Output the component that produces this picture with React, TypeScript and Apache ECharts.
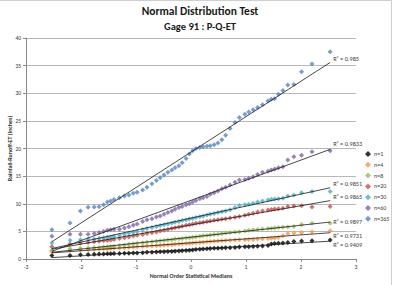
import React, { useEffect, useRef } from "react";
import * as echarts from "echarts";

// Normal order statistic medians (x) shared by all series
const xs = [-2.53, -2.2, -2.01, -1.87, -1.76, -1.67, -1.59, -1.52, -1.46, -1.4, -1.3, -1.21, -1.13, -1.05, -0.98, -0.88, -0.8, -0.71, -0.63, -0.56, -0.49, -0.42, -0.35, -0.29, -0.22, -0.16, -0.09, -0.03, 0.03, 0.09, 0.16, 0.22, 0.29, 0.35, 0.42, 0.49, 0.56, 0.63, 0.71, 0.8, 0.88, 0.98, 1.05, 1.13, 1.21, 1.3, 1.4, 1.46, 1.52, 1.59, 1.67, 1.76, 1.87, 2.01, 2.2, 2.53];

const seriesNames = ["n=1", "n=4", "n=8", "n=20", "n=30", "n=60", "n=365"];

const n1 = [0.65, 0.65, 0.75, 0.8, 0.85, 0.9, 0.9, 0.95, 0.95, 1.0, 1.0, 1.05, 1.05, 1.1, 1.1, 1.15, 1.2, 1.2, 1.25, 1.3, 1.3, 1.35, 1.35, 1.4, 1.45, 1.5, 1.55, 1.6, 1.65, 1.7, 1.75, 1.8, 1.85, 1.9, 1.95, 1.95, 2.0, 2.05, 2.05, 2.1, 2.15, 2.2, 2.2, 2.25, 2.3, 2.35, 2.45, 2.7, 2.8, 2.85, 2.9, 3.0, 3.15, 3.25, 3.3, 3.45];
const n4 = [1.35, 1.6, 1.65, 1.7, 1.75, 1.8, 1.85, 1.85, 1.9, 1.95, 2.0, 2.05, 2.1, 2.15, 2.2, 2.25, 2.3, 2.35, 2.4, 2.45, 2.5, 2.55, 2.6, 2.65, 2.7, 2.75, 2.8, 2.85, 2.9, 2.95, 3.0, 3.05, 3.1, 3.15, 3.2, 3.25, 3.3, 3.35, 3.4, 3.45, 3.5, 3.5, 3.55, 3.55, 3.6, 3.65, 3.7, 3.75, 3.8, 3.9, 4.2, 4.6, 4.7, 4.8, 4.95, 5.1];
const n8 = [1.55, 1.85, 1.95, 2.0, 2.05, 2.1, 2.15, 2.2, 2.25, 2.3, 2.45, 2.55, 2.65, 2.75, 2.85, 2.95, 3.05, 3.1, 3.2, 3.3, 3.35, 3.45, 3.5, 3.6, 3.65, 3.7, 3.8, 3.85, 3.95, 4.0, 4.1, 4.2, 4.25, 4.35, 4.45, 4.5, 4.6, 4.7, 4.78, 4.87, 4.95, 5.05, 5.2, 5.3, 5.35, 5.45, 5.5, 5.55, 5.6, 5.7, 5.75, 5.8, 5.9, 6.25, 6.45, 6.45];
const n20 = [2.2, 2.7, 2.9, 3.0, 3.1, 3.2, 3.3, 3.35, 3.45, 3.55, 3.7, 3.85, 4.0, 4.15, 4.3, 4.45, 4.6, 4.75, 4.9, 5.05, 5.2, 5.35, 5.5, 5.65, 5.8, 5.95, 6.1, 6.2, 6.35, 6.45, 6.55, 6.65, 6.8, 6.9, 7.0, 7.1, 7.2, 7.3, 7.4, 7.55, 7.7, 7.9, 8.1, 8.3, 8.5, 8.7, 8.85, 8.95, 9.05, 9.1, 9.2, 9.5, 9.6, 9.65, 9.4, 9.5];
const n30 = [2.9, 3.4, 3.5, 3.6, 3.6, 3.7, 3.8, 3.9, 4.0, 4.1, 4.3, 4.5, 4.65, 4.8, 5.0, 5.3, 5.5, 5.7, 5.9, 6.05, 6.2, 6.35, 6.5, 6.65, 6.8, 6.95, 7.1, 7.25, 7.35, 7.5, 7.65, 7.8, 7.95, 8.1, 8.25, 8.4, 8.55, 8.7, 8.9, 9.3, 9.7, 9.8, 9.9, 10.1, 10.3, 10.5, 10.7, 10.8, 10.85, 10.9, 11.0, 11.4, 11.6, 12.0, 12.2, 12.2];
const n60 = [4.1, 4.5, 4.5, 4.5, 4.6, 4.8, 5.0, 5.2, 5.3, 5.4, 5.4, 5.6, 5.85, 6.1, 6.35, 6.8, 7.1, 7.3, 7.6, 7.8, 8.1, 8.4, 8.7, 9.0, 9.3, 9.5, 9.8, 10.0, 10.3, 10.6, 10.9, 11.1, 11.3, 11.7, 12.0, 12.3, 12.7, 13.0, 13.4, 13.9, 14.3, 14.4, 14.6, 14.9, 15.3, 15.7, 15.9, 16.1, 16.3, 16.5, 16.7, 17.9, 18.5, 18.8, 19.4, 19.6];
const n365 = [5.3, 6.5, 8.7, 9.35, 9.4, 9.45, 9.8, 10.3, 10.5, 10.75, 11.1, 11.4, 11.6, 11.9, 12.1, 12.5, 13.0, 13.6, 14.2, 14.7, 15.2, 15.7, 16.1, 16.5, 16.9, 17.4, 18.2, 19.0, 19.6, 20.0, 20.2, 20.3, 20.4, 20.5, 20.7, 21.0, 21.6, 22.4, 23.6, 24.7, 25.6, 26.2, 26.6, 27.0, 27.4, 27.9, 28.6, 28.9, 29.0, 29.8, 30.5, 31.5, 31.6, 33.9, 35.3, 37.5];

const seriesValues = [n1, n4, n8, n20, n30, n60, n365];
const rSquared = ["0.9409", "0.9731", "0.9897", "0.9865", "0.9851", "0.9833", "0.985"];

const titleText = "Normal Distribution Test";
const subtitleText = "Gage 91 : P-Q-ET";

// styles
const colors = ["#000000", "#F79646", "#9BBB59", "#C0504D", "#4BACC6", "#8064A2", "#5585C2"];
const labelOffsets = [[1, 4], [1, 3], [1, 0], [1, -4], [1, -4], [1, -5], [1, -3]];
const FONT = "Carlito, Lato, 'Open Sans', sans-serif";

function linearFit(x: number[], y: number[]) {
  const n = x.length;
  let sx = 0, sy = 0, sxx = 0, sxy = 0;
  for (let i = 0; i < n; i++) {
    sx += x[i]; sy += y[i]; sxx += x[i] * x[i]; sxy += x[i] * y[i];
  }
  const b = (n * sxy - sx * sy) / (n * sxx - sx * sx);
  const a = (sy - b * sx) / n;
  return { a, b };
}

export default function App() {
  const ref = useRef<HTMLDivElement>(null);
  useEffect(() => {
    document.body.style.margin = "0";
    const chart = echarts.init(ref.current!, null, { renderer: "svg" });
    const scatter = seriesNames.map((name, i) => ({
      name,
      type: "scatter",
      symbol: "diamond",
      symbolSize: 5,
      itemStyle: { color: colors[i] },
      data: xs.map((x, j) => [x, seriesValues[i][j]]),
      z: 2,
    }));
    const trends = seriesNames.map((name, i) => {
      const { a, b } = linearFit(xs, seriesValues[i]);
      const x0 = xs[0];
      const x1 = xs[xs.length - 1];
      return {
        name: "trend " + name,
        type: "line",
        symbol: "none",
        silent: true,
        lineStyle: { color: "#1a1a1a", width: 0.8 },
        z: 3,
        endLabel: {
          show: true,
          offset: labelOffsets[i],
          formatter: "R² = " + rSquared[i],
          fontSize: 6.3,
          color: "#404040",
          fontFamily: FONT,
          distance: 2,
        },
        data: [
          [x0, a + b * x0],
          [x1, a + b * x1],
        ],
      };
    });
    chart.setOption({
      animation: false,
      textStyle: { fontFamily: FONT },
      title: {
        text: titleText,
        subtext: subtitleText,
        left: 195,
        textAlign: "center",
        top: 0,
        itemGap: 4,
        textStyle: { fontSize: 11.5, fontWeight: "bold", color: "#1a1a1a", fontFamily: FONT },
        subtextStyle: { fontSize: 10.5, fontWeight: "bold", color: "#1a1a1a", fontFamily: FONT },
      },
      graphic: [
        {
          type: "rect",
          shape: { x: -1, y: 0.5, width: 392.5, height: 290 },
          style: { fill: "none", stroke: "#cfcfcf", lineWidth: 1 },
          silent: true,
        },
      ],
      legend: {
        orient: "vertical",
        left: 360,
        top: 146,
        itemWidth: 6,
        itemHeight: 6,
        itemGap: 4.8,
        data: seriesNames.map((n) => ({ name: n, icon: "diamond" })),
        textStyle: { fontSize: 6, color: "#404040", fontFamily: FONT, padding: [0, 0, 0, -2] },
      },
      grid: { left: 26, right: 39, top: 38, bottom: 26, containLabel: false, outerBoundsMode: "none" },
      xAxis: {
        type: "value",
        min: -3,
        max: 3,
        interval: 1,
        name: "Normal Order Statistical Medians",
        nameLocation: "middle",
        nameGap: 14,
        nameMoveOverlap: false,
        nameTextStyle: { fontSize: 6, fontWeight: "bold", color: "#333", fontFamily: FONT },
        axisLine: { show: true, onZero: false, lineStyle: { color: "#888", width: 1 } },
        axisTick: { show: true, length: 3, lineStyle: { color: "#888" } },
        axisLabel: { fontSize: 5.5, color: "#333", margin: 5 },
        splitLine: { show: false },
      },
      yAxis: {
        type: "value",
        min: 0,
        max: 40,
        interval: 5,
        name: "Rainfall-Runoff-ET (inches)",
        nameLocation: "middle",
        nameGap: 13,
        nameMoveOverlap: false,
        nameTextStyle: { fontSize: 6, fontWeight: "bold", color: "#333", fontFamily: FONT },
        axisLine: { show: true, onZero: false, lineStyle: { color: "#888", width: 1 } },
        axisTick: { show: true, length: 3, lineStyle: { color: "#888" } },
        axisLabel: { fontSize: 5.5, color: "#333", margin: 5 },
        splitLine: { show: true, lineStyle: { color: "#b8b8b8", width: 1 } },
      },
      series: [...scatter, ...trends],
    });
    return () => chart.dispose();
  }, []);
  return <div ref={ref} style={{ width: 395, height: 285 }} />;
}
